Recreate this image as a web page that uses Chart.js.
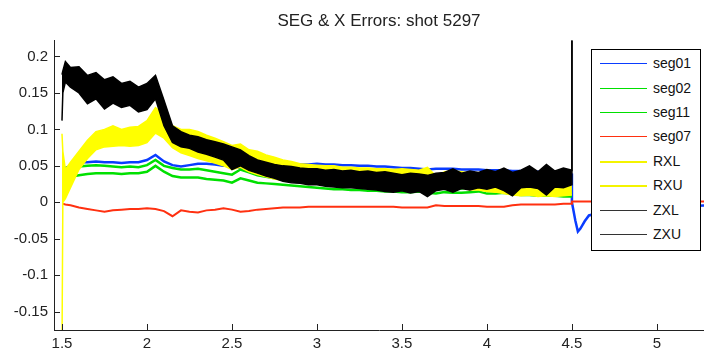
<!DOCTYPE html>
<html>
<head>
<meta charset="utf-8">
<script src="https://cdn.jsdelivr.net/npm/chart.js@4.4.1/dist/chart.umd.min.js"></script>
<style>
  html, body { margin: 0; padding: 0; background: #fff; }
  #wrap { position: relative; width: 704px; height: 351px; overflow: hidden; }
  #legend { position: absolute; left: 591px; top: 49px; width: 108px; height: 200px;
            border: 1px solid #000; background: #fff; box-sizing: content-box; }
  .item { position: absolute; left: 0; height: 20px; width: 108px; }
  .item .ln { position: absolute; left: 8px; top: 10px; width: 47px; height: 1px; }
  .item .tx { position: absolute; left: 61px; top: 0; font: 14px "Liberation Sans", Arial, sans-serif;
              color: #111; line-height: 20px; white-space: nowrap; }
</style>
</head>
<body>
<div id="wrap">
  <canvas id="c" width="704" height="351"></canvas>
  <div id="legend"></div>
</div>
<script>
// ---------- data ----------
const chartTitle = 'SEG & X Errors: shot 5297';
const seriesNames = ['seg01', 'seg02', 'seg11', 'seg07', 'RXL', 'RXU', 'ZXL', 'ZXU'];

const xMain = [
  1.50, 1.505, 1.52, 1.55, 1.60, 1.65, 1.70, 1.75, 1.80, 1.85,
  1.90, 1.95, 2.00, 2.05, 2.10, 2.15, 2.20, 2.25, 2.30, 2.35,
  2.40, 2.45, 2.50, 2.55, 2.60, 2.65, 2.70, 2.75, 2.80, 2.85,
  2.90, 2.95, 3.00, 3.05, 3.10, 3.15, 3.20, 3.25, 3.30, 3.35,
  3.40, 3.45, 3.50, 3.55, 3.60, 3.65, 3.70, 3.75, 3.80, 3.85,
  3.90, 3.95, 4.00, 4.05, 4.10, 4.15, 4.20, 4.25, 4.30, 4.35,
  4.40, 4.45, 4.50, 4.50];
const xTail = [4.52, 4.535, 4.55, 4.575, 4.60, 4.70, 4.80, 4.90, 5.00, 5.10, 5.20, 5.30];

const seg01Main = [
  0.047, 0.047, 0.047, 0.050, 0.055, 0.055, 0.056, 0.055, 0.055, 0.054,
  0.055, 0.055, 0.058, 0.065, 0.056, 0.051, 0.049, 0.051, 0.053, 0.053,
  0.052, 0.050, 0.050, 0.047, 0.050, 0.050, 0.050, 0.050, 0.051, 0.052,
  0.052, 0.052, 0.053, 0.052, 0.052, 0.051, 0.051, 0.050, 0.050, 0.049,
  0.049, 0.048, 0.047, 0.047, 0.046, 0.045, 0.046, 0.046, 0.046, 0.045,
  0.045, 0.045, 0.044, 0.044, 0.044, 0.043, 0.043, 0.042, 0.042, 0.041,
  0.040, 0.039, 0.038, 0.000];
const seg01Tail = [-0.025, -0.040, -0.036, -0.026, -0.018, -0.012, -0.009, -0.007, -0.006, -0.005, -0.005, -0.004];

const seg02Vals = [
  0.044, 0.044, 0.047, 0.049, 0.049, 0.050, 0.051, 0.050, 0.049, 0.048,
  0.049, 0.048, 0.051, 0.058, 0.050, 0.047, 0.045, 0.045, 0.046, 0.044,
  0.042, 0.040, 0.038, 0.045, 0.041, 0.037, 0.035, 0.033, 0.032, 0.030,
  0.029, 0.028, 0.027, 0.026, 0.025, 0.024, 0.023, 0.023, 0.022, 0.022,
  0.021, 0.021, 0.020, 0.020, 0.020, 0.019, 0.018, 0.020, 0.020, 0.019,
  0.021, 0.022, 0.020, 0.019, 0.020, 0.018, 0.016, 0.016, 0.015, 0.014,
  0.014, 0.013, 0.013, 0.013];

const seg11Vals = [
  0.037, 0.037, 0.035, 0.035, 0.037, 0.039, 0.040, 0.040, 0.040, 0.039,
  0.040, 0.040, 0.042, 0.050, 0.042, 0.036, 0.034, 0.034, 0.034, 0.032,
  0.031, 0.030, 0.027, 0.033, 0.030, 0.027, 0.026, 0.025, 0.024, 0.023,
  0.022, 0.021, 0.020, 0.019, 0.018, 0.018, 0.017, 0.017, 0.016, 0.016,
  0.015, 0.015, 0.014, 0.014, 0.015, 0.013, 0.012, 0.014, 0.013, 0.013,
  0.014, 0.015, 0.012, 0.012, 0.013, 0.011, 0.010, 0.010, 0.009, 0.009,
  0.009, 0.008, 0.008, 0.008];

const seg07Main = [
  -0.002, -0.002, -0.003, -0.004, -0.007, -0.009, -0.011, -0.013, -0.011, -0.010,
  -0.009, -0.009, -0.008, -0.009, -0.012, -0.019, -0.011, -0.013, -0.014, -0.011,
  -0.010, -0.008, -0.010, -0.013, -0.012, -0.010, -0.009, -0.008, -0.007, -0.007,
  -0.007, -0.006, -0.006, -0.006, -0.006, -0.006, -0.006, -0.006, -0.006, -0.006,
  -0.006, -0.006, -0.007, -0.007, -0.007, -0.007, -0.004, -0.005, -0.005, -0.005,
  -0.005, -0.005, -0.006, -0.006, -0.006, -0.004, -0.003, -0.003, -0.003, -0.003,
  -0.003, -0.002, -0.002, 0.001];
const seg07Tail = [0.001, 0.001, 0.001, 0.001, 0.001, 0.001, 0.001, 0.001, 0.001, 0.001, 0.001, 0.001];

const rxlVals = [
  -0.200, 0.000, 0.005, 0.020, 0.045, 0.060, 0.072, 0.076, 0.077, 0.078,
  0.077, 0.078, 0.082, 0.095, 0.088, 0.075, 0.068, 0.064, 0.060, 0.057,
  0.054, 0.050, 0.045, 0.048, 0.042, 0.038, 0.035, 0.032, 0.030, 0.029,
  0.028, 0.027, 0.027, 0.026, 0.025, 0.024, 0.024, 0.023, 0.022, 0.022,
  0.021, 0.021, 0.022, 0.022, 0.021, 0.022, 0.020, 0.020, 0.018, 0.020,
  0.017, 0.017, 0.015, 0.014, 0.012, 0.010, 0.009, 0.010, 0.008, 0.009,
  0.008, 0.009, 0.010, 0.010];

const rxuVals = [
  0.094, 0.070, 0.045, 0.055, 0.070, 0.085, 0.097, 0.100, 0.105, 0.100,
  0.103, 0.104, 0.112, 0.130, 0.120, 0.105, 0.100, 0.100, 0.097, 0.092,
  0.088, 0.083, 0.078, 0.080, 0.072, 0.070, 0.065, 0.062, 0.058, 0.056,
  0.053, 0.052, 0.051, 0.050, 0.050, 0.048, 0.048, 0.047, 0.047, 0.046,
  0.046, 0.045, 0.046, 0.045, 0.044, 0.048, 0.036, 0.042, 0.043, 0.042,
  0.040, 0.040, 0.038, 0.036, 0.035, 0.030, 0.030, 0.032, 0.028, 0.030,
  0.027, 0.030, 0.030, 0.030];

const zxlVals = [
  0.112, 0.150, 0.165, 0.158, 0.150, 0.135, 0.142, 0.128, 0.136, 0.130,
  0.133, 0.124, 0.127, 0.142, 0.105, 0.082, 0.076, 0.074, 0.069, 0.066,
  0.062, 0.058, 0.045, 0.050, 0.044, 0.040, 0.036, 0.033, 0.029, 0.027,
  0.026, 0.024, 0.024, 0.022, 0.021, 0.020, 0.020, 0.019, 0.018, 0.017,
  0.015, 0.014, 0.016, 0.013, 0.015, 0.008, 0.016, 0.018, 0.014, 0.019,
  0.017, 0.020, 0.018, 0.021, 0.016, 0.009, 0.020, 0.021, 0.019, 0.010,
  0.021, 0.020, 0.024, 0.300];

const zxuVals = [
  0.175, 0.180, 0.193, 0.185, 0.186, 0.174, 0.178, 0.168, 0.172, 0.163,
  0.166, 0.158, 0.163, 0.174, 0.140, 0.105, 0.097, 0.092, 0.090, 0.086,
  0.083, 0.080, 0.076, 0.072, 0.064, 0.058, 0.055, 0.052, 0.050, 0.049,
  0.047, 0.046, 0.046, 0.044, 0.045, 0.043, 0.044, 0.042, 0.043, 0.041,
  0.042, 0.040, 0.038, 0.040, 0.039, 0.037, 0.040, 0.041, 0.046, 0.040,
  0.043, 0.041, 0.045, 0.042, 0.047, 0.041, 0.044, 0.050, 0.042, 0.052,
  0.043, 0.047, 0.044, 0.300];

const xTicks = [1.5, 2, 2.5, 3, 3.5, 4, 4.5, 5];
const xTickLabels = ['1.5', '2', '2.5', '3', '3.5', '4', '4.5', '5'];
const yTicks = [-0.15, -0.1, -0.05, 0, 0.05, 0.1, 0.15, 0.2];
const yTickLabels = ['-0.15', '-0.1', '-0.05', '0', '0.05', '0.1', '0.15', '0.2'];

// ---------- styling ----------
const colors = ['#0a3cff', '#00e000', '#00e000', '#ff3010', '#ffff00', '#ffff00', '#000000', '#000000'];
const legendColors = ['#0a3cff', '#00e000', '#00e000', '#ff3010', '#f4f400', '#f4f400', '#333333', '#333333'];
const legendLineH = [1, 1, 1, 1, 2, 2, 1, 1];
const widths = [2.5, 2.5, 2.5, 2, 1.5, 1.5, 1.5, 1.5];
const FONT = '"Liberation Sans", Arial, sans-serif';

function pts(xs, ys) { return xs.map((x, i) => ({ x: x, y: ys[i] })); }

const seriesData = [
  pts(xMain.concat(xTail), seg01Main.concat(seg01Tail)),
  pts(xMain, seg02Vals),
  pts(xMain, seg11Vals),
  pts(xMain.concat(xTail), seg07Main.concat(seg07Tail)),
  pts(xMain, rxlVals),
  pts(xMain, rxuVals),
  pts(xMain, zxlVals),
  pts(xMain, zxuVals)
];

const datasets = seriesNames.map((name, i) => ({
  label: name,
  data: seriesData[i],
  borderColor: colors[i],
  backgroundColor: colors[i],
  borderWidth: widths[i],
  pointRadius: 0,
  tension: 0,
  fill: (name === 'RXU' || name === 'ZXU') ? '-1' : false,
  order: seriesNames.length - i
}));

const innerTicks = {
  id: 'innerTicks',
  afterDatasetsDraw(chart) {
    const { ctx, chartArea, scales } = chart;
    ctx.save();
    ctx.strokeStyle = '#222';
    ctx.lineWidth = 1;
    ctx.beginPath();
    scales.x.ticks.forEach((t, i) => {
      const px = Math.round(scales.x.getPixelForTick(i)) + 0.5;
      ctx.moveTo(px, chartArea.bottom);
      ctx.lineTo(px, chartArea.bottom - 6);
    });
    scales.y.ticks.forEach((t, i) => {
      const py = Math.round(scales.y.getPixelForTick(i)) + 0.5;
      ctx.moveTo(chartArea.left, py);
      ctx.lineTo(chartArea.left + 6, py);
    });
    ctx.stroke();
    ctx.restore();
  }
};

const chart = new Chart(document.getElementById('c'), {
  type: 'line',
  data: { datasets: datasets },
  options: {
    responsive: false,
    animation: false,
    devicePixelRatio: 1,
    layout: { padding: { left: 0, right: 0, top: 0, bottom: 0 } },
    plugins: {
      legend: { display: false },
      tooltip: { enabled: false },
      title: {
        display: true,
        text: chartTitle,
        fullSize: false,
        color: '#222',
        font: { family: FONT, size: 17, weight: 'normal' },
        padding: { top: 11, bottom: 9 }
      }
    },
    scales: {
      x: {
        type: 'linear',
        min: 1.453,
        max: 5.277,
        grid: { display: false, drawTicks: false },
        border: { display: true, color: '#222', width: 1 },
        afterBuildTicks: (s) => { s.ticks = xTicks.map(v => ({ value: v })); },
        afterFit: (s) => { s.height = 21; },
        ticks: {
          padding: 5,
          maxRotation: 0,
          color: '#222',
          font: { family: FONT, size: 15 },
          callback: (v) => xTickLabels[xTicks.indexOf(v)]
        }
      },
      y: {
        type: 'linear',
        min: -0.175,
        max: 0.222,
        grid: { display: false, drawTicks: false },
        border: { display: true, color: '#222', width: 1 },
        afterBuildTicks: (s) => { s.ticks = yTicks.map(v => ({ value: v })); },
        afterFit: (s) => { s.width = 54; },
        ticks: {
          padding: 6,
          color: '#222',
          font: { family: FONT, size: 15 },
          callback: (v) => yTickLabels[yTicks.indexOf(v)]
        }
      }
    }
  },
  plugins: [innerTicks]
});

// ---------- legend (HTML, built from the chart's datasets) ----------
const legendEl = document.getElementById('legend');
chart.data.datasets.forEach((ds, i) => {
  const item = document.createElement('div');
  item.className = 'item';
  item.style.top = Math.round(13.3 + 24.4 * i - 10) + 'px';
  const ln = document.createElement('div');
  ln.className = 'ln';
  ln.style.background = legendColors[i];
  ln.style.height = legendLineH[i] + 'px';
  const tx = document.createElement('div');
  tx.className = 'tx';
  tx.textContent = ds.label;
  item.appendChild(ln);
  item.appendChild(tx);
  legendEl.appendChild(item);
});
</script>
</body>
</html>
